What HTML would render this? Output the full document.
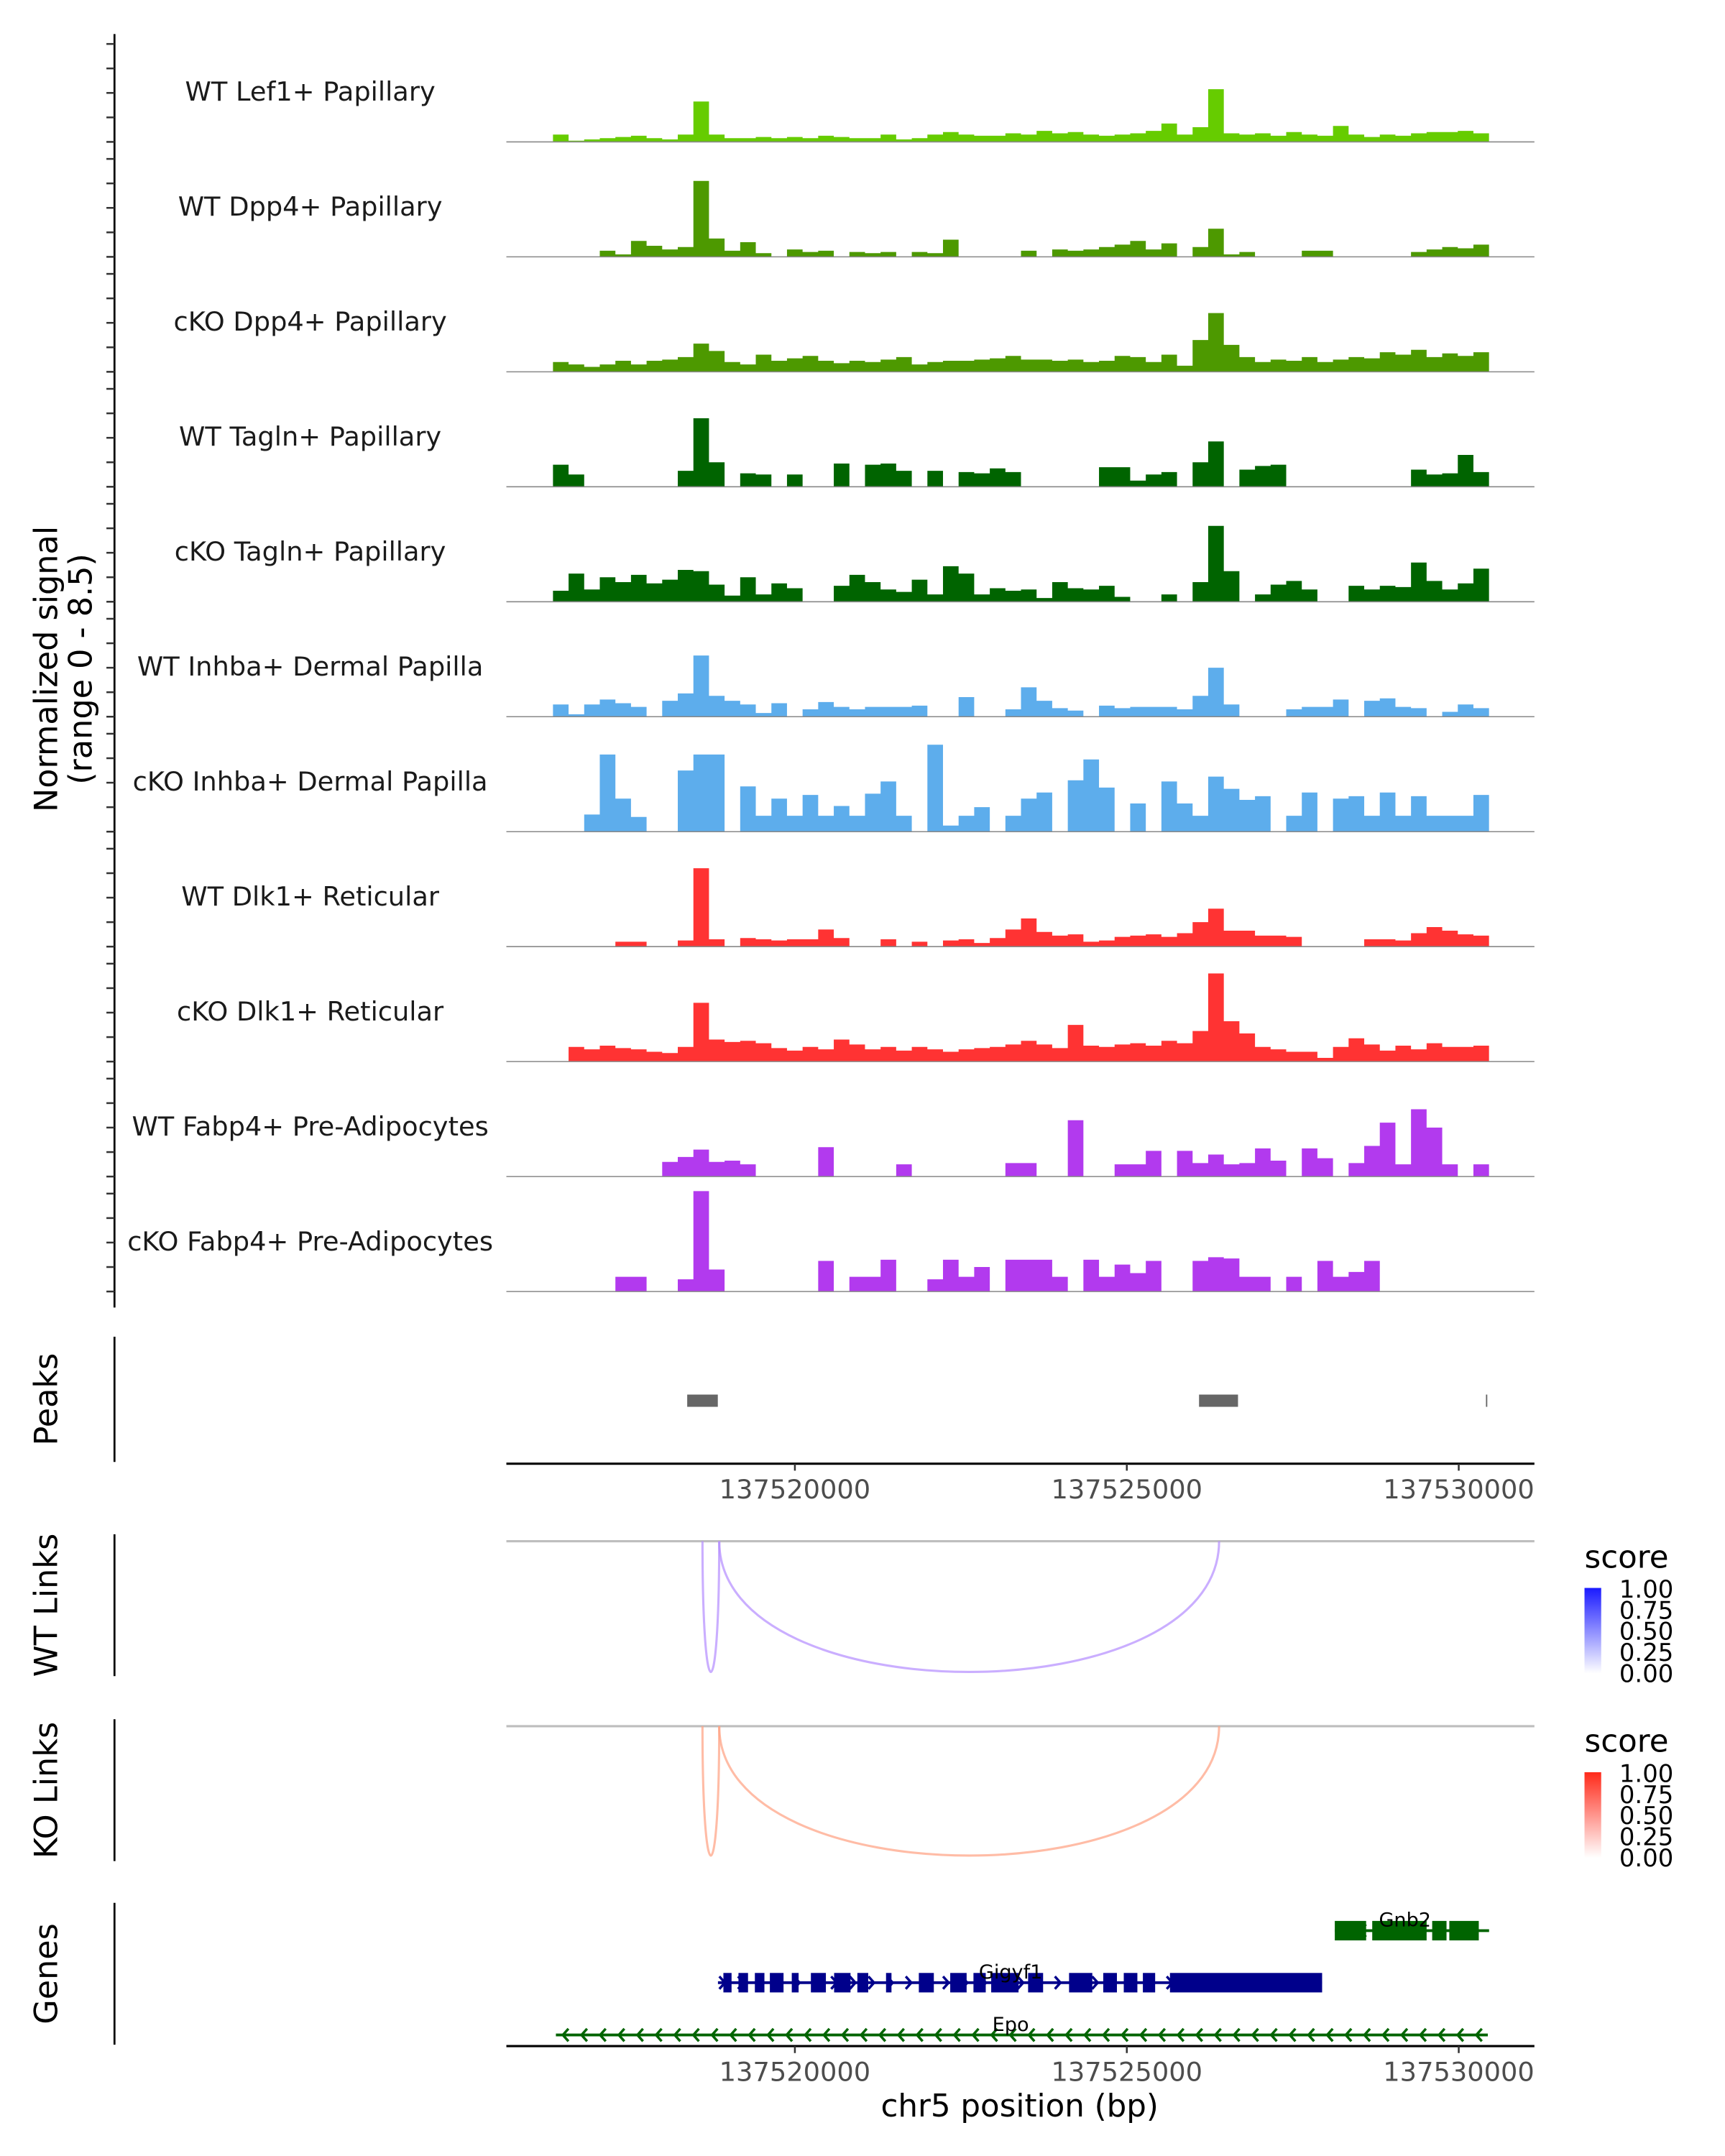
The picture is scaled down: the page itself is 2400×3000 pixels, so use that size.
<!DOCTYPE html>
<html><head><meta charset="utf-8"><style>
html,body{margin:0;padding:0;background:#fff}
svg{display:block;font-family:"DejaVu Sans","Liberation Sans",sans-serif}
</style></head><body>
<svg id="fig" width="2400" height="3000" viewBox="0 0 1240 1550" xmlns="http://www.w3.org/2000/svg">
<rect width="1240" height="1550" fill="#fff"/>
<g id="cov"></g>
<g id="peaks"></g>
<g id="links"></g>
<g id="genes"></g>
</svg>
<script>
const NS="http://www.w3.org/2000/svg";
const trackNames=["WT Lef1+ Papillary","WT Dpp4+ Papillary","cKO Dpp4+ Papillary","WT Tagln+ Papillary","cKO Tagln+ Papillary","WT Inhba+ Dermal Papilla","cKO Inhba+ Dermal Papilla","WT Dlk1+ Reticular","cKO Dlk1+ Reticular","WT Fabp4+ Pre-Adipocytes","cKO Fabp4+ Pre-Adipocytes"];
const trackColors=["#66CC00","#4D9900","#4D9900","#006400","#006400","#5DADEC","#5DADEC","#FF3333","#FF3333","#B23AEE","#B23AEE"];
const binStart=137516356;
const binSize=235;
const s1=[0.6,0.1,0.2,0.3,0.4,0.5,0.3,0.2,0.6,3.3,0.6,0.3,0.3,0.4,0.3,0.4,0.3,0.5,0.4,0.3,0.3,0.6,0.2,0.3,0.6,0.8,0.6,0.5,0.5,0.7,0.6,0.9,0.7,0.8,0.6,0.5,0.6,0.7,0.9,1.5,0.6,1.2,4.3,0.7,0.6,0.7,0.5,0.8,0.6,0.5,1.3,0.6,0.4,0.6,0.5,0.7,0.8,0.8,0.9,0.7];
const s2=[0,0,0,0.5,0.2,1.3,0.9,0.6,0.8,6.2,1.5,0.5,1.2,0.3,0,0.6,0.4,0.5,0,0.4,0.3,0.4,0,0.4,0.3,1.4,0,0,0,0,0.5,0,0.6,0.5,0.6,0.8,1.0,1.3,0.6,1.1,0,0.8,2.3,0.2,0.4,0,0,0,0.5,0.5,0,0,0,0,0,0.4,0.6,0.8,0.7,1.0];
const s3=[0.8,0.6,0.4,0.6,0.9,0.6,0.9,1.0,1.2,2.3,1.7,0.8,0.6,1.4,0.9,1.1,1.3,0.9,0.7,0.9,0.8,1.0,1.2,0.6,0.8,0.9,0.9,1.0,1.1,1.3,1.0,1.0,0.9,1.0,0.8,0.9,1.3,1.2,0.8,1.4,0.5,2.6,4.8,2.2,1.2,0.8,1.0,0.9,1.2,0.8,1.0,1.2,1.1,1.6,1.4,1.8,1.2,1.5,1.3,1.6];
const s4=[1.8,1.0,0,0,0,0,0,0,1.3,5.6,2.0,0,1.1,1.0,0,1.0,0,0,1.9,0,1.8,1.9,1.3,0,1.3,0,1.2,1.1,1.5,1.2,0,0,0,0,0,1.6,1.6,0.5,1.0,1.2,0,2.0,3.7,0,1.4,1.7,1.8,0,0,0,0,0,0,0,0,1.4,1.0,1.1,2.6,1.2];
const s5=[0.9,2.3,1.0,2.0,1.6,2.2,1.5,1.8,2.6,2.5,1.4,0.5,2.0,0.6,1.5,1.1,0,0,1.3,2.2,1.6,1.0,0.8,1.8,0.6,2.9,2.3,0.6,1.1,0.9,1.0,0.3,1.6,1.1,1.0,1.3,0.4,0,0,0.6,0,1.6,6.2,2.5,0,0.6,1.4,1.7,1.0,0,0,1.3,1.0,1.3,1.2,3.2,1.7,1.0,1.5,2.7];
const s6=[1.0,0.2,1.0,1.4,1.1,0.8,0,1.3,1.9,5.0,1.7,1.3,1.0,0.3,1.1,0,0.6,1.2,0.8,0.6,0.8,0.8,0.8,0.9,0,0,1.6,0,0,0.6,2.4,1.3,0.7,0.5,0,0.9,0.7,0.8,0.8,0.8,0.6,1.7,4.0,1.0,0,0,0,0.6,0.8,0.8,1.4,0,1.3,1.5,0.8,0.7,0,0.4,1.0,0.7];
const s7=[0,0,1.4,6.3,2.7,1.2,0,0,5.0,6.3,6.3,0,3.7,1.3,2.7,1.3,3.0,1.3,2.1,1.3,3.1,4.1,1.3,0,7.1,0.5,1.3,2.0,0,1.3,2.7,3.2,0,4.2,5.9,3.6,0,2.3,0,4.1,2.3,1.3,4.5,3.5,2.6,2.9,0,1.3,3.2,0,2.7,2.9,1.3,3.2,1.3,2.9,1.3,1.3,1.3,3.0];
const s8=[0,0,0,0,0.4,0.4,0,0,0.5,6.4,0.6,0,0.7,0.6,0.5,0.6,0.6,1.4,0.7,0,0,0.6,0,0.4,0,0.5,0.6,0.3,0.7,1.4,2.3,1.2,0.9,1.0,0.4,0.5,0.8,0.9,1.0,0.8,1.1,2.0,3.1,1.3,1.3,0.9,0.9,0.8,0,0,0,0,0.6,0.6,0.5,1.1,1.6,1.3,1.0,0.9];
const s9=[0,1.2,1.0,1.3,1.1,1.0,0.8,0.7,1.2,4.8,1.8,1.6,1.7,1.5,1.1,0.9,1.2,1.0,1.8,1.4,1.0,1.2,0.9,1.2,1.0,0.8,1.0,1.1,1.2,1.4,1.7,1.4,1.1,3.0,1.3,1.2,1.4,1.5,1.3,1.7,1.5,2.5,7.2,3.3,2.3,1.2,1.0,0.8,0.8,0.3,1.2,1.9,1.4,0.9,1.3,1.0,1.5,1.2,1.2,1.3];
const s10=[0,0,0,0,0,0,0,1.2,1.6,2.2,1.2,1.3,1.0,0,0,0,0,2.4,0,0,0,0,1.0,0,0,0,0,0,0,1.1,1.1,0,0,4.6,0,0,1.0,1.0,2.1,0,2.1,1.1,1.8,1.0,1.1,2.3,1.3,0,2.3,1.5,0,1.1,2.5,4.4,1.0,5.5,4.0,1.0,0,1.0];
const s11=[0,0,0,0,1.2,1.2,0,0,1.0,8.2,1.8,0,0,0,0,0,0,2.5,0,1.2,1.2,2.6,0,0,1.0,2.6,1.2,2.0,0,2.6,2.6,2.6,1.2,0,2.6,1.2,2.2,1.5,2.5,0,0,2.5,2.8,2.7,1.2,1.2,0,1.2,0,2.5,1.2,1.6,2.5,0,0,0,0,0,0,0];
const series=[s1,s2,s3,s4,s5,s6,s7,s8,s9,s10,s11];
const xTicks=[137520000,137525000,137530000];
const peakStarts=[137518378,137526088,137530410];
const peakEnds=[137518839,137526675,137530430];
const wtLinkStarts=[137518608,137518860];
const wtLinkEnds=[137518860,137526390];
const wtLinkScores=[0.3,0.3];
const koLinkStarts=[137518608,137518860];
const koLinkEnds=[137518860,137526390];
const koLinkScores=[0.35,0.35];
const legendTicks=["1.00","0.75","0.50","0.25","0.00"];
const geneNames=["Gnb2","Gigyf1","Epo"];
const geneStarts=[137528133,137518841,137516400];
const geneEnds=[137530457,137527942,137530438];
const geneStrands=["-","+","-"];
const geneLabelPos=[137529190,137523250,137523250];
const gnb2Exons=[[137528133,137528605],[137528697,137529516],[137529600,137529816],[137529858,137530302]];
const gigyf1Exons=[[137518923,137519046],[137519150,137519294],[137519397,137519541],[137519623,137519829],[137519953,137520056],[137520241,137520467],[137520591,137520838],[137520941,137521105],[137521373,137521455],[137521867,137522093],[137522340,137522587],[137522690,137522875],[137522957,137523369],[137523513,137523739],[137524130,137524480],[137524645,137524851],[137524954,137525159],[137525242,137525427],[137525650,137527942]];
const epoExons=[];
const geneExons=[gnb2Exons,gigyf1Exons,epoExons];

const X0=364,X1=1103;
function xs(bp){return 571.4+(bp-137520000)*0.04772;}
const unitPx=8.8;
const baselines=[];
for(let i=0;i<11;i++)baselines.push(102+82.65*i);
function ys(i,v){return baselines[i]-v*unitPx;}

function el(tag,attrs,parent,text){const e=document.createElementNS(NS,tag);for(const k in attrs)e.setAttribute(k,attrs[k]);if(text!==undefined)e.textContent=text;parent.appendChild(e);return e;}

const cov=document.getElementById('cov');
let ax=el('line',{x1:82.3,y1:24.5,x2:82.3,y2:940,stroke:'#000','stroke-width':1.4},cov);


let yt1=el('text',{x:0,y:0,'font-size':23,'text-anchor':'middle',transform:'translate(41,481) rotate(-90)',fill:'#000'},cov,'Normalized signal');


let yt2=el('text',{x:0,y:0,'font-size':23,'text-anchor':'middle',transform:'translate(66,481) rotate(-90)',fill:'#000'},cov,'(range 0 - 8.5)');



series.forEach((s,i)=>{
  const g=el('g',{},cov);
  
  
  [0,2,4,6,8].forEach(u=>{
    const t=el('line',{x1:76.5,x2:82.3,y1:ys(i,u),y2:ys(i,u),stroke:'#333','stroke-width':1.3},g);
    
    
  });
  const lab=el('text',{x:223,y:baselines[i]-29.6,'font-size':19,'text-anchor':'middle',fill:'#1a1a1a'},g,trackNames[i]);
  
  
  let d='M'+xs(binStart).toFixed(2)+','+baselines[i];
  s.forEach((v,j)=>{
    const xa=xs(binStart+j*binSize), xb=xs(binStart+(j+1)*binSize);
    const y=ys(i,v);
    d+=' L'+xa.toFixed(2)+','+y.toFixed(2)+' L'+xb.toFixed(2)+','+y.toFixed(2);
  });
  d+=' L'+xs(binStart+s.length*binSize).toFixed(2)+','+baselines[i]+' Z';
  const p=el('path',{d:d,fill:trackColors[i],stroke:'none'},g);
  
  
  const b=el('line',{x1:X0,x2:X1,y1:baselines[i],y2:baselines[i],stroke:'#888','stroke-width':0.8},g);
  
  
});

function xAxis(parent,y,name){
  const g=el('g',{},parent);
  
  
  el('line',{x1:X0,x2:X1,y1:y,y2:y,stroke:'#000','stroke-width':1.6},g);
  xTicks.forEach(t=>{
    el('line',{x1:xs(t),x2:xs(t),y1:y,y2:y+5,stroke:'#333','stroke-width':1.3},g);
    const tx=el('text',{x:xs(t),y:y+25,'font-size':19,'text-anchor':'middle',fill:'#4d4d4d'},g,String(t));
    
    
  });
}
function sideAxis(parent,y1,y2,label,name){
  const l=el('line',{x1:82.3,x2:82.3,y1:y1,y2:y2,stroke:'#000','stroke-width':1.4},parent);
  
  
  const t=el('text',{x:0,y:0,'font-size':23,'text-anchor':'middle',transform:'translate(41,'+((y1+y2)/2)+') rotate(-90)'},parent,label);
  
  
}

const pk=document.getElementById('peaks');
sideAxis(pk,961,1051,'Peaks','peaks');
peakStarts.forEach((s,i)=>{
  const r=el('rect',{x:xs(s),y:1002.6,width:Math.max(0.8,xs(peakEnds[i])-xs(s)),height:8.8,fill:'#666'},pk);
  
  
});
xAxis(pk,1052.3,'peaks-x-axis');

const lk=document.getElementById('links');
function linkPanel(y0,bottom,starts,ends,scores,col,label,name,legY,gradId,gradTop){
  sideAxis(lk,y0-5,y0+97,label,name);
  const gl=el('line',{x1:X0,x2:X1,y1:y0,y2:y0,stroke:'#bebebe','stroke-width':1.6},lk);
  
  
  starts.forEach((s,i)=>{
    const a=xs(s),b=xs(ends[i]);const depth=(bottom-y0)/0.75;
    const p=el('path',{d:`M${a.toFixed(2)},${y0} C${a.toFixed(2)},${y0+depth} ${b.toFixed(2)},${y0+depth} ${b.toFixed(2)},${y0}`,fill:'none',stroke:col,'stroke-width':1.6,'stroke-opacity':0.55+scores[i]*0.5},lk);
    
    
  });
  const defs=el('defs',{},lk);
  const gr=el('linearGradient',{id:gradId,x1:0,y1:0,x2:0,y2:1},defs);
  el('stop',{offset:'0','stop-color':gradTop},gr);
  el('stop',{offset:'1','stop-color':'#ffffff'},gr);
  const lt=el('text',{x:1139,y:legY,'font-size':22.5},lk,'score');
  
  
  const lb=el('rect',{x:1139,y:legY+14.6,width:12,height:61.4,fill:`url(#${gradId})`},lk);
  
  
  legendTicks.forEach((t,i)=>{
    const yy=legY+21.5+i*15.2;
    const tt=el('text',{x:1164,y:yy,'font-size':17.5,fill:'#000'},lk,t);
    
    
  });
}
linkPanel(1108,1202,wtLinkStarts,wtLinkEnds,wtLinkScores,'#B48CFF','WT Links','wt-links',1127,'gw','#1A1AFF');
linkPanel(1241,1334,koLinkStarts,koLinkEnds,koLinkScores,'#FFA284','KO Links','ko-links',1259.5,'gk','#FF2A1A');

const gn=document.getElementById('genes');
sideAxis(gn,1368,1470,'Genes','genes');
const geneY=[1388,1425.4,1463];
const geneCol=['#006400','#00008B','#006400'];
geneNames.forEach((n,i)=>{
  const g=el('g',{},gn);
  
  
  const y=geneY[i],c=geneCol[i];
  const a=xs(geneStarts[i]),b=xs(geneEnds[i]);
  el('line',{x1:a,x2:b,y1:y,y2:y,stroke:c,'stroke-width':2},g);
  const dir=geneStrands[i]==='-'?1:-1;
  for(let x=a+5;x<b-2;x+=13.4){
    el('path',{d:`M${(x+dir*4).toFixed(2)},${y-4.5} L${x.toFixed(2)},${y} L${(x+dir*4).toFixed(2)},${y+4.5}`,fill:'none',stroke:c,'stroke-width':1.8},g);
  }
  geneExons[i].forEach(e=>{
    const r=el('rect',{x:xs(e[0]),y:y-7,width:xs(e[1])-xs(e[0]),height:14,fill:c},g);
    
    
  });
  const t=el('text',{x:xs(geneLabelPos[i]),y:y-3,'font-size':14,'text-anchor':'middle',fill:'#000'},g,n);
  
  
});
xAxis(gn,1471,'genes-x-axis');
const xt=el('text',{x:733,y:1521.5,'font-size':22.5,'text-anchor':'middle'},gn,'chr5 position (bp)');


</script>
</body></html>
